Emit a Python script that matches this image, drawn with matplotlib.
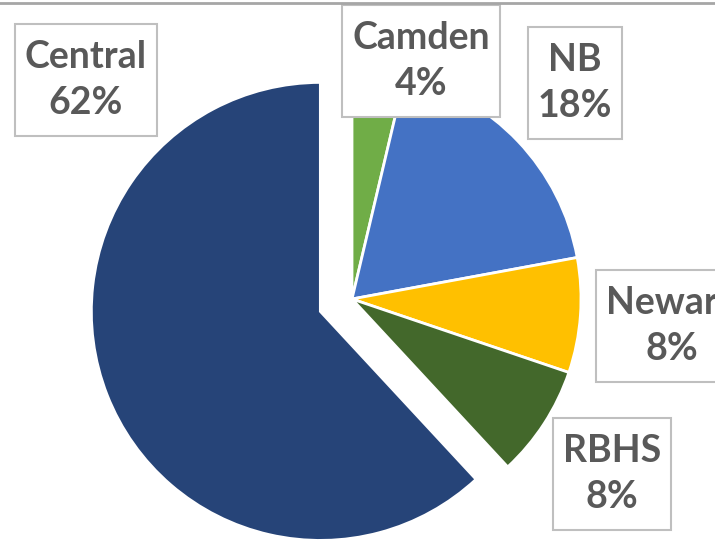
import matplotlib
matplotlib.use("Agg")
import matplotlib.pyplot as plt
from matplotlib.lines import Line2D
from matplotlib.patches import Rectangle

# data
categories = ["Camden", "NB", "Newark", "RBHS", "Central"]
values = [3.7, 18.4, 8.1, 7.9, 61.9]
colors = ["#70AD47", "#4472C4", "#FFC000", "#43682B", "#264478"]
explode_flags = [0, 0, 0, 0, 1]

W, H = 715, 548
fig = plt.figure(figsize=(W / 100, H / 100), dpi=100)
ax = fig.add_axes([0, 0, 1, 1])

cx, cy, r = 352, H - 299, 229
ax.pie(values, colors=colors, startangle=90, counterclock=False,
       center=(cx, cy), radius=r, explode=[f * 34 for f in explode_flags],
       wedgeprops=dict(edgecolor="white", linewidth=2), frame=True)
ax.set_xlim(0, W)
ax.set_ylim(0, H)
ax.set_aspect("equal")
ax.axis("off")

label_pos = [(421, H - 61), (575, H - 83), (672, H - 326), (612, H - 474), (86, H - 80)]
total = sum(values)
renderer = fig.canvas.get_renderer()
for name, v, (lx, ly) in zip(categories, values, label_pos):
    t = ax.text(lx, ly, f"{name}\n{round(v / total * 100)}%", ha="center", va="center",
                fontsize=27, fontweight="bold", family="Lato", color="#595959",
                linespacing=1.42, zorder=5)
    bb = t.get_window_extent(renderer)
    padx, boxh = 10, 112
    rect = Rectangle((bb.x0 - padx, (bb.y0 + bb.y1) / 2 - boxh / 2), bb.width + 2 * padx, boxh,
                     transform=None, facecolor="white", edgecolor="#BFBFBF", linewidth=1.5, zorder=4)
    ax.add_artist(rect)

fig.add_artist(Line2D([0, 1], [1 - 2.5 / H, 1 - 2.5 / H], transform=fig.transFigure,
                      color="#A6A6A6", linewidth=2))

fig.savefig("out.png", dpi=100)
